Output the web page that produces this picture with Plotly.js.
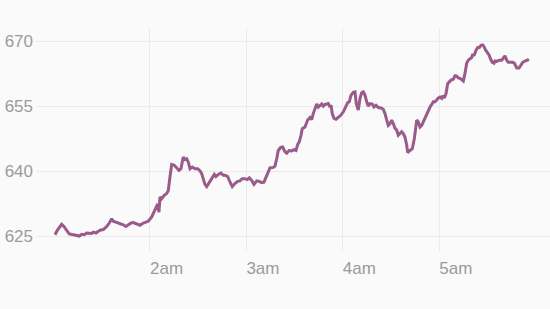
<!DOCTYPE html>
<html>
<head>
<meta charset="utf-8">
<script src="https://cdn.plot.ly/plotly-3.0.1.min.js"></script>
<style>
html,body{margin:0;padding:0;background:#fafafa;}
#chart{width:550px;height:309px;}
</style>
</head>
<body>
<div id="chart"></div>
<script>
// Time of day in decimal hours
const hours = [
1.015,1.039,1.084,1.108,1.136,1.163,1.205,1.240,1.267,1.292,1.319,1.344,1.371,1.395,1.412,1.440,1.464,1.489,1.516,1.551,
1.578,1.603,1.619,1.644,1.671,1.699,1.723,1.751,1.775,1.803,1.827,1.855,1.879,1.896,1.931,1.982,2.018,2.045,2.069,2.080,
2.093,2.104,2.121,2.148,2.173,2.190,2.207,2.225,2.252,2.277,2.301,2.321,2.345,2.363,2.381,2.397,2.415,2.439,2.467,2.495,
2.519,2.536,2.553,2.570,2.588,2.612,2.640,2.667,2.684,2.708,2.736,2.760,2.778,2.806,2.830,2.853,2.881,2.909,2.933,2.957,
2.985,3.009,3.030,3.055,3.078,3.107,3.133,3.158,3.182,3.203,3.227,3.244,3.279,3.296,3.314,3.330,3.355,3.376,3.400,3.418,
3.441,3.469,3.493,3.514,3.532,3.548,3.566,3.579,3.607,3.635,3.659,3.677,3.693,3.711,3.729,3.745,3.763,3.781,3.797,3.815,
3.832,3.849,3.867,3.877,3.890,3.908,3.929,3.953,3.978,4.005,4.029,4.050,4.067,4.084,4.108,4.126,4.139,4.160,4.178,4.195,
4.212,4.230,4.247,4.264,4.281,4.305,4.323,4.344,4.368,4.396,4.419,4.437,4.455,4.471,4.489,4.506,4.523,4.541,4.558,4.575,
4.593,4.610,4.627,4.644,4.662,4.672,4.696,4.720,4.741,4.766,4.782,4.800,4.818,4.834,4.852,4.869,4.886,4.904,4.921,4.938,
4.956,4.973,4.990,5.007,5.025,5.035,5.052,5.070,5.087,5.104,5.121,5.145,5.163,5.181,5.197,5.215,5.232,5.249,5.267,5.284,
5.301,5.318,5.336,5.346,5.360,5.381,5.398,5.415,5.433,5.450,5.464,5.481,5.498,5.516,5.533,5.550,5.567,5.578,5.595,5.622,
5.647,5.664,5.681,5.699,5.716,5.741,5.761,5.778,5.803,5.827,5.844,5.865,5.889,5.913,5.930
];
const prices = [
625.4,626.4,627.8,627.3,626.4,625.6,625.4,625.3,625.1,625.5,625.4,625.8,625.8,625.7,626.0,625.8,626.2,626.5,626.6,627.3,
628.1,629.1,628.5,628.3,628.1,628.0,627.7,627.3,627.7,628.1,628.2,627.9,627.8,627.6,628.1,628.5,629.5,631.0,631.9,632.5,
630.6,634.1,633.7,634.5,634.9,635.6,638.7,641.6,641.4,640.9,640.2,640.6,643.3,642.7,642.9,642.1,640.6,641.0,640.6,640.6,
640.1,639.5,638.3,637.0,636.5,637.3,638.3,639.3,638.8,639.3,639.6,639.1,639.1,638.8,637.5,636.5,637.2,637.7,637.8,638.3,
638.3,638.1,638.5,637.9,637.0,637.8,637.7,637.4,637.5,638.7,640.2,640.8,640.9,641.2,642.9,644.8,645.5,645.6,644.5,644.2,
644.8,644.7,645.0,644.8,646.2,646.8,648.3,649.8,650.2,651.8,652.4,651.9,653.3,654.5,655.5,654.8,655.2,655.5,655.0,655.4,
655.5,655.6,654.8,655.2,653.3,652.2,652.0,652.4,652.9,653.7,654.8,655.8,656.0,657.5,658.2,658.3,655.6,654.1,656.8,658.1,
658.3,657.5,656.0,655.0,655.6,655.5,654.8,655.2,654.7,654.6,654.3,653.3,651.8,650.6,651.0,651.8,651.0,649.9,649.5,648.3,
648.7,649.1,648.7,647.9,646.0,644.3,644.8,645.2,647.5,651.8,651.4,650.2,650.6,651.4,652.2,653.3,654.1,654.8,655.4,656.0,
656.0,656.6,656.9,657.1,656.8,657.4,656.9,657.9,660.2,660.6,661.0,661.2,662.0,661.9,661.5,661.4,661.0,660.8,662.6,664.9,
665.6,665.8,666.2,667.0,666.6,667.9,668.5,668.5,669.0,669.1,668.7,667.9,667.4,666.8,665.8,665.1,664.9,665.4,665.3,665.6,
665.6,666.0,666.6,665.6,665.1,665.1,665.1,664.9,663.8,663.8,664.4,665.1,665.4,665.6,665.8
];
const xTickVals = [2, 3, 4, 5];
const xTickText = ['2am', '3am', '4am', '5am'];
const yTickVals = [625, 640, 655, 670];

const trace = {
  x: hours, y: prices, type: 'scatter', mode: 'lines',
  line: {color: '#9a5a8a', width: 3, shape: 'linear'},
  hoverinfo: 'skip'
};
const layout = {
  width: 550, height: 309,
  margin: {l: 36, r: 0, t: 28, b: 58},
  paper_bgcolor: '#fafafa', plot_bgcolor: '#fafafa',
  showlegend: false,
  font: {family: '"Liberation Sans", Arial, sans-serif', size: 17, color: '#9a9a9a'},
  xaxis: {
    range: [0.818, 6.148], tickvals: xTickVals, ticktext: xTickText,
    showgrid: true, gridcolor: '#ebebeb', gridwidth: 1,
    zeroline: false, showline: false, ticks: '',
    ticklabelposition: 'outside right', ticklabelstandoff: 5,
    fixedrange: true
  },
  yaxis: {
    range: [621.66, 673.0], tickvals: yTickVals,
    showgrid: true, gridcolor: '#ebebeb', gridwidth: 1,
    zeroline: false, showline: false, ticks: '',
    ticklabelstandoff: 2,
    fixedrange: true
  }
};
Plotly.newPlot('chart', [trace], layout, {displayModeBar: false, staticPlot: true});
</script>
</body>
</html>
